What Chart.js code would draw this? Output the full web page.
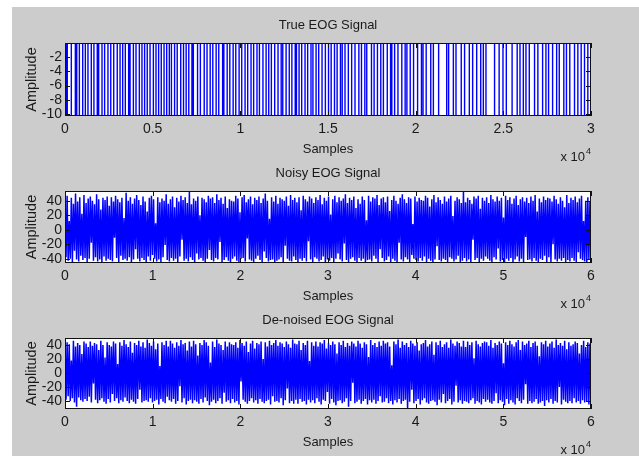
<!DOCTYPE html>
<html>
<head>
<meta charset="utf-8">
<script src="https://cdn.jsdelivr.net/npm/chart.js@4.4.0/dist/chart.umd.min.js"></script>
<style>
html, body { margin: 0; padding: 0; background: #fff; width: 639px; height: 456px; overflow: hidden; }
#bg { position: absolute; left: 12px; top: 7px; right: 0; bottom: 0; background: #cccccc; }
canvas { position: absolute; left: 0; }
</style>
</head>
<body>
<div id="bg"></div>
<canvas id="trueChart" width="639" height="166" style="top:0px"></canvas>
<canvas id="noisyChart" width="639" height="163" style="top:150px"></canvas>
<canvas id="cleanChart" width="639" height="162" style="top:297px"></canvas>
<script>
// sample positions where the true EOG switches rail
var trueEdges = [60, 130, 360, 590, 670, 820, 1010, 1160, 1310, 1500, 1650, 1840, 1920, 2110, 2260, 2450, 2610, 2780, 2980, 3140,
  3290, 3440, 3630, 3710, 3900, 4050, 4240, 4390, 4540, 4690, 4850, 5040, 5190, 5340, 5490, 5650, 5800, 5950,
  6070, 6250, 6400, 6600, 6760, 6910, 7060, 7240, 7320, 7560, 7720, 7940, 8100, 8280, 8430, 8620, 8770, 8990, 9060, 9250,
  9400, 9590, 9740, 9930, 10080, 10270, 10420, 10610, 10760, 10950, 11090, 11290, 11470, 11620, 11770, 11960,
  12150, 12330, 12420, 12610, 12790, 12940, 13130, 13200, 13350, 13500, 13690, 13840, 14030, 14140, 14320, 14470, 14660, 14850,
  15030, 15180, 15370, 15520, 15710, 15810, 15970, 16160, 16350, 16540, 16760, 16910, 17100, 17210, 17480, 17630, 17820, 18010, 18160,
  18380, 18570, 18640, 18800, 18990, 19210, 19400, 19500, 19690, 19880, 20110, 20330, 20420, 20600, 20860, 21010, 21310, 21770,
  21880, 22150, 22300, 22600, 22790, 23060, 23250, 23480, 23710, 23860, 24010,
  24500, 24760, 24980, 25170, 25500, 25790, 25950, 26140, 26290, 26480, 26780, 26970, 27240, 27430, 27580, 27810, 28040, 28190,
  28450, 28600, 28790, 29060, 29250, 29440, 29630, 29820];
var trueLevels = [0, -10.28];

var noisy = [
  41,-38,47,-43,12,-40,44,-45,36,-29,50,-41,39,-44,45,-36,22,-42,48,-39,
  37,-45,43,-40,46,-18,40,-43,35,-38,49,-44,42,-41,28,-46,44,-37,41,-43,
  46,-40,33,-42,45,-44,39,-11,47,-39,42,-45,38,-36,44,-42,16,-40,51,-43,
  40,-38,45,-46,36,-41,43,-27,48,-40,41,-44,34,-39,46,-42,39,-45,25,-37,
  44,-43,47,-35,42,-40,9,-44,45,-41,38,-46,43,-38,40,-21,49,-42,36,-44,
  42,-39,46,-43,31,-40,44,-45,39,-37,47,-14,41,-43,45,-40,37,-44,52,-38,
  35,-42,43,-46,40,-33,46,-41,20,-39,44,-43,42,-45,38,-40,47,-28,43,-42,
  45,-44,37,-39,49,-41,41,-17,44,-45,36,-42,46,-38,30,-43,42,-46,40,-40,
  39,-37,47,-43,43,-45,24,-40,45,-39,48,-44,38,-12,42,-41,46,-43,35,-45,
  44,-40,41,-36,46,-42,37,-45,43,-30,50,-39,40,-44,15,-42,45,-41,39,-46,
  47,-43,36,-41,44,-38,42,-45,40,-22,46,-40,33,-43,48,-44,41,-37,44,-42,
  38,-46,45,-40,27,-43,47,-39,42,-44,39,-16,46,-41,43,-45,37,-38,45,-40,
  41,-44,48,-42,35,-37,44,-46,40,-41,46,-43,21,-39,42,-45,47,-40,38,-33,
  45,-41,40,-44,43,-19,49,-42,37,-45,44,-40,41,-38,46,-43,30,-46,42,-39,
  36,-43,46,-40,41,-45,13,-42,47,-41,39,-44,45,-36,43,-40,48,-45,34,-27,
  43,-39,45,-44,38,-42,46,-37,26,-45,41,-40,47,-43,40,-46,36,-18,44,-41,
  49,-44,42,-38,37,-41,45,-45,43,-35,8,-40,46,-42,39,-44,44,-39,41,-43,
  40,-37,47,-45,44,-40,32,-43,42,-46,48,-41,38,-23,45,-42,41,-44,36,-40,
  46,-42,39,-45,43,-38,47,-40,19,-44,40,-41,45,-36,42,-45,37,-43,53,-39,
  38,-44,44,-41,41,-46,36,-14,46,-42,43,-39,47,-45,29,-40,44,-43,40,-37,
  45,-40,37,-43,48,-45,42,-38,39,-41,46,-26,40,-44,44,-42,17,-45,47,-40,
  41,-43,45,-39,36,-46,43,-41,47,-37,34,-44,42,-40,45,-45,39,-10,44,-42,
  37,-41,46,-44,40,-39,48,-43,25,-45,43,-40,38,-42,46,-36,41,-46,44,-38,
  43,-45,39,-20,47,-41,42,-44,36,-40,45,-43,40,-39,31,-45,48,-42,37,-44,
  44,-39,41,-43,46,-45,38,-31,43,-40,47,-42,12,-44,40,-46,45,-41,39,-43];

var denoised = [
  36,-38,44,-33,41,-40,18,-36,46,-42,38,-48,43,-35,40,-39,27,-41,45,-37,
  42,-40,37,-34,45,-42,39,-15,43,-38,41,-43,33,-39,46,-36,40,-41,22,-44,
  44,-37,40,-42,38,-30,45,-40,42,-36,13,-43,44,-39,39,-41,47,-35,41,-40,
  37,-43,45,-38,29,-41,43,-44,40,-37,46,-24,38,-42,44,-40,36,-39,48,-41,
  43,-36,39,-42,45,-40,34,-38,42,-45,10,-37,44,-41,40,-43,46,-34,38,-39,
  46,-41,42,-37,36,-44,44,-40,39,-19,47,-42,41,-36,43,-45,32,-40,45,-38,
  38,-43,46,-39,41,-41,25,-44,43,-37,40,-42,47,-35,44,-40,39,-46,15,-41,
  45,-38,37,-43,48,-40,42,-36,40,-44,33,-28,45,-41,38,-39,44,-43,41,-37,
  40,-42,44,-40,36,-45,47,-12,43,-38,39,-41,45,-44,30,-40,42,-36,46,-42,
  35,-39,43,-44,41,-37,45,-41,20,-43,44,-40,38,-38,46,-45,40,-33,43,-41,
  47,-40,39,-42,44,-36,42,-46,37,-39,45,-22,41,-43,36,-40,48,-44,42,-38,
  41,-44,46,-37,33,-41,43,-40,40,-45,46,-38,17,-42,44,-39,39,-43,45,-36,
  38,-41,44,-45,42,-38,47,-40,35,-27,43,-44,40,-37,45,-42,41,-46,28,-40,
  44,-39,40,-43,46,-41,37,-36,43,-48,39,-40,45,-14,42,-43,38,-41,46,-38,
  42,-44,36,-40,44,-37,41,-45,23,-39,47,-42,40,-38,43,-44,37,-40,45,-33,
  39,-42,46,-41,42,-36,44,-43,38,-40,11,-45,45,-39,41,-42,48,-37,36,-44,
  45,-40,40,-38,43,-51,37,-41,46,-24,42,-43,39,-40,44,-37,32,-45,41,-39,
  43,-36,47,-42,38,-44,41,-40,45,-39,26,-41,44,-46,40,-38,46,-42,37,-30,
  41,-43,44,-40,36,-37,48,-45,42,-41,39,-18,45,-42,43,-39,38,-44,46,-40,
  37,-41,45,-43,40,-39,44,-36,21,-44,46,-40,41,-42,38,-45,43,-37,45,-41,
  44,-38,39,-42,47,-44,36,-40,43,-29,40,-43,45,-39,42,-41,14,-46,44,-37,
  40,-44,46,-39,41,-42,38,-45,44,-36,47,-40,33,-43,45,-38,40,-16,42,-44,
  46,-40,37,-43,43,-41,45,-37,39,-44,24,-42,44,-40,41,-47,46,-39,38,-42,
  42,-37,45,-44,36,-40,48,-42,40,-20,43,-45,39,-38,46,-41,34,-43,44,-40,
  39,-43,41,-36,45,-42,43,-40,28,-44,40,-39,46,-42,37,-41,44,-45,42,-48];

var trueXTicks = [0, 5000, 10000, 15000, 20000, 25000, 30000];
var sigXTicks = [0, 10000, 20000, 30000, 40000, 50000, 60000];
var trueYTicks = [-10, -8, -6, -4, -2];
var sigYTicks = [-40, -20, 0, 20, 40];

var FONT = "'Liberation Sans', Arial, sans-serif";
Chart.defaults.font.family = FONT;
Chart.defaults.color = '#1a1a1a';

var boxPlugin = {
  id: 'matlabBox',
  beforeDraw: function(chart) {
    var a = chart.chartArea, c = chart.ctx;
    c.save();
    c.fillStyle = '#ffffff';
    c.fillRect(a.left, a.top, a.right - a.left, a.bottom - a.top);
    c.restore();
  },
  afterDatasetsDraw: function(chart) {
    var a = chart.chartArea, c = chart.ctx, xs = chart.scales.x, ys = chart.scales.y;
    c.save();
    c.strokeStyle = '#111';
    c.lineWidth = 1;
    c.beginPath();
    xs.ticks.forEach(function(t) {
      var px = Math.round(xs.getPixelForValue(t.value)) + 0.5;
      c.moveTo(px, a.bottom); c.lineTo(px, a.bottom - 5);
      c.moveTo(px, a.top); c.lineTo(px, a.top + 5);
    });
    ys.ticks.forEach(function(t) {
      var py = Math.round(ys.getPixelForValue(t.value)) + 0.5;
      c.moveTo(a.left, py); c.lineTo(a.left + 5, py);
      c.moveTo(a.right, py); c.lineTo(a.right - 5, py);
    });
    c.stroke();
    c.strokeRect(Math.round(a.left) + 0.5, Math.round(a.top) + 0.5, Math.round(a.right - a.left) - 1, Math.round(a.bottom - a.top) - 1);
    c.fillStyle = '#1a1a1a';
    c.textBaseline = 'alphabetic';
    c.textAlign = 'right';
    c.font = '13px ' + FONT;
    c.fillText('x 10', a.right - 6, a.bottom + 45);
    c.textAlign = 'left';
    c.font = '9px ' + FONT;
    c.fillText('4', a.right - 5, a.bottom + 38);
    c.restore();
  }
};

function makeChart(id, o) {
  var el = document.getElementById(id);
  var top = parseFloat(el.style.top);
  var aTop = o.areaTop - top, aBot = o.areaBottom - top;
  return new Chart(el, {
    type: 'line',
    data: {
      datasets: [{
        data: o.points,
        borderColor: '#0000ff',
        borderWidth: o.lw,
        pointRadius: 0,
        stepped: o.stepped || false,
        tension: 0,
        fill: false
      }]
    },
    options: {
      responsive: false,
      animation: false,
      events: [],
      layout: { padding: { left: 0, right: 48, top: 0, bottom: el.height - aBot - 42 } },
      plugins: {
        legend: { display: false },
        tooltip: { enabled: false },
        title: {
          display: true, text: o.title, color: '#1a1a1a', fullSize: false,
          font: { size: 13, weight: 'normal' },
          padding: { top: aTop - 25.3, bottom: 9.7 }
        }
      },
      scales: {
        x: {
          type: 'linear', min: 0, max: o.xMax,
          grid: { display: false, drawTicks: false }, border: { display: false },
          afterFit: function(s) { s.height = 42; },
          afterBuildTicks: function(s) { s.ticks = o.xTicks.map(function(v) { return { value: v }; }); },
          ticks: { padding: 5, maxRotation: 0, autoSkip: false, font: { size: 14 },
                   callback: function(v) { return String(v / 10000); } },
          title: { display: true, text: 'Samples', font: { size: 13 }, padding: { top: 0, bottom: 1 } }
        },
        y: {
          min: o.yMin, max: o.yMax,
          grid: { display: false, drawTicks: false }, border: { display: false },
          afterFit: function(s) { s.width = 65; },
          afterBuildTicks: function(s) { s.ticks = o.yTicks.map(function(v) { return { value: v }; }); },
          ticks: { padding: 3, autoSkip: false, font: { size: 14 },
                   callback: function(v) { return String(v); } },
          title: { display: true, text: 'Amplitude', font: { size: 14.5 },
                   padding: { top: 23.3, bottom: 0 } }
        }
      }
    },
    plugins: [boxPlugin]
  });
}

var truePts = [{ x: 0, y: trueLevels[0] }];
trueEdges.forEach(function(e, i) { truePts.push({ x: e, y: trueLevels[(i + 1) % 2] }); });
truePts.push({ x: 30000, y: truePts[truePts.length - 1].y });

function toPts(arr) {
  return arr.map(function(v, i) { return { x: i * 60000 / (arr.length - 1), y: v }; });
}

makeChart('trueChart', { points: truePts, stepped: true, lw: 1.4, title: 'True EOG Signal',
  areaTop: 43, areaBottom: 116, xMax: 30000, xTicks: trueXTicks, yMin: -10.28, yMax: 0, yTicks: trueYTicks });
makeChart('noisyChart', { points: toPts(noisy), lw: 1.5, title: 'Noisy EOG Signal',
  areaTop: 191, areaBottom: 263, xMax: 60000, xTicks: sigXTicks, yMin: -46, yMax: 53.5, yTicks: sigYTicks });
makeChart('cleanChart', { points: toPts(denoised), lw: 1.5, title: 'De-noised EOG Signal',
  areaTop: 338, areaBottom: 409, xMax: 60000, xTicks: sigXTicks, yMin: -51.4, yMax: 50, yTicks: sigYTicks });
</script>
</body>
</html>
